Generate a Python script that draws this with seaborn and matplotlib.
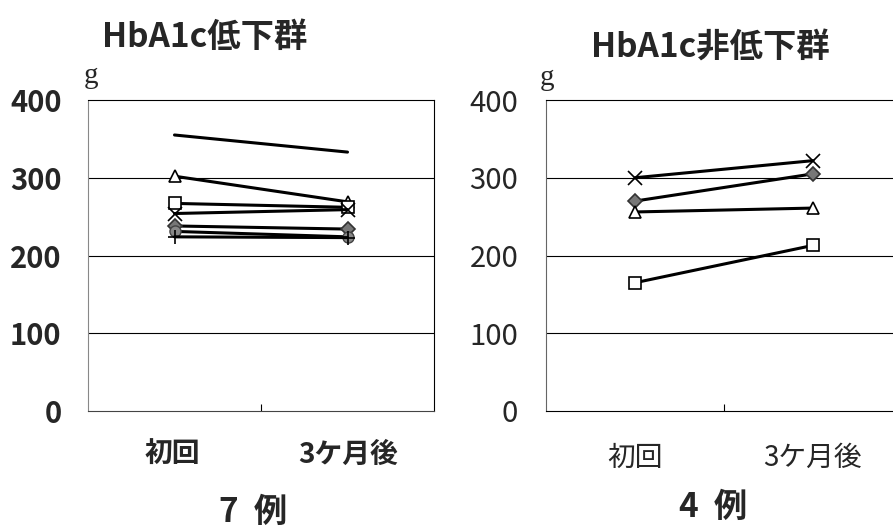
import pandas as pd
import seaborn as sns
import matplotlib.pyplot as plt
from matplotlib.ticker import FixedLocator

# datos
periodos = ['初回', '3ケ月後']

# HbA1c低下群 (7 例)
bajo_inicio = [355, 302, 267, 254, 238, 231, 224]
bajo_final = [333, 269, 262, 259, 234, 224, 223]
bajo_marcas = ['', '^', 's', 'x', 'D', 'o', '+']

# HbA1c非低下群 (4 例)
nobajo_inicio = [300, 270, 256, 165]
nobajo_final = [322, 305, 261, 213]
nobajo_marcas = ['x', 'D', '^', 's']

yticks = [0, 100, 200, 300, 400]

sns.set_theme(style='white')
plt.rcParams['font.family'] = ['Noto Sans CJK JP', 'DejaVu Sans']

fig = plt.figure(figsize=(8.93, 5.30), dpi=100)
ax1 = fig.add_axes([88/893, 1-411/530, 346/893, 311/530])
ax2 = fig.add_axes([546/893, 1-411/530, 356/893, 311/530])

estilo = {
    '': dict(marker=None),
    '^': dict(marker='^', ms=9, mfc='white', mec='black', mew=1.2),
    's': dict(marker='s', ms=9, mfc='white', mec='black', mew=1.2),
    'x': dict(marker='x', ms=10, mec='black', mew=1.2),
    'D': dict(marker='D', ms=7, mfc='#777777', mec='#333333', mew=1.2),
    'o': dict(marker='o', ms=8, mfc='#888888', mec='#444444', mew=1.0),
    '+': dict(marker='+', ms=10, mec='black', mew=1.2),
}


def dibujar(ax, inicio, final, marcas, bold):
    for a, b, m in zip(inicio, final, marcas):
        df = pd.DataFrame({'periodo': periodos, 'valor': [a, b]})
        sns.lineplot(data=df, x='periodo', y='valor', ax=ax, color='black',
                     lw=2.2, sort=False, **estilo[m])
    ax.set_xlim(-0.5, 1.5)
    ax.set_ylim(0, 400)
    ax.set_yticks(yticks)
    for y in [100, 200, 300]:
        ax.axhline(y, color='black', lw=0.8, zorder=0)
    ax.set_xlabel('')
    ax.set_ylabel('')
    ax.set_xticks([0, 1])
    ax.set_xticklabels([])
    ax.xaxis.set_minor_locator(FixedLocator([0.5]))
    ax.tick_params(axis='x', which='major', length=0)
    ax.tick_params(axis='x', which='minor', direction='in', length=5,
                   width=0.8, color='black', bottom=True)
    ax.tick_params(axis='y', length=0, pad=19, labelsize=21)
    for t in ax.get_yticklabels():
        t.set_fontweight('bold' if bold else 'normal')
    for s in ax.spines.values():
        s.set_color('black')
        s.set_linewidth(0.8)


dibujar(ax1, bajo_inicio, bajo_final, bajo_marcas, True)
dibujar(ax2, nobajo_inicio, nobajo_final, nobajo_marcas, False)
ax1.spines['left'].set_color('#888888')
ax1.spines['left'].set_linestyle((0, (1, 1)))
ax1.spines['bottom'].set_color('#444444')
ax2.spines['left'].set_color('#666666')
ax2.tick_params(axis='y', pad=20)

# textos
fig.text(205/893, 1-37/530, 'HbA1c低下群', ha='center', va='center',
         fontsize=24, fontweight='bold')
fig.text(710/893, 1-48/530, 'HbA1c非低下群', ha='center', va='center',
         fontsize=24, fontweight='bold')
fig.text(91/893, 1-76/530, 'g', ha='center', va='center', fontsize=21,
         family='Liberation Serif')
fig.text(547/893, 1-78/530, 'g', ha='center', va='center', fontsize=21,
         family='Liberation Serif')
for x, lab in zip([172, 348], periodos):
    fig.text(x/893, 1-455/530, lab, ha='center', va='center', fontsize=20,
             fontweight='bold')
for x, lab in zip([635, 812], periodos):
    fig.text(x/893, 1-458/530, lab, ha='center', va='center', fontsize=20)
fig.text(253/893, 1-512/530, '7  例', ha='center', va='center',
         fontsize=24, fontweight='bold')
fig.text(713/893, 1-507/530, '4  例', ha='center', va='center',
         fontsize=24, fontweight='bold')

fig.savefig('out.png', dpi=100)
